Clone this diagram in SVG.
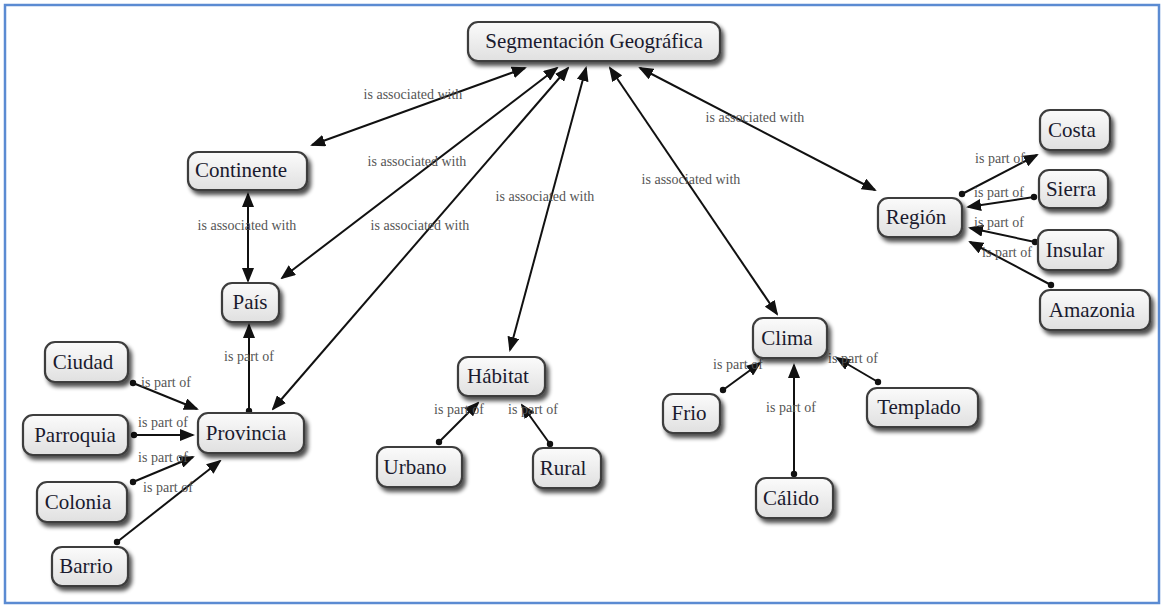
<svg xmlns="http://www.w3.org/2000/svg" width="1162" height="605" viewBox="0 0 1162 605">
  <style>
    .box { fill: url(#boxfill); stroke: #3c3c3c; stroke-width: 2.2; filter: url(#shadow); }
    .name { font-family: "Liberation Serif", "Times New Roman", serif; font-size: 21px; fill: #1a1a2e; text-anchor: middle; }
    .lbl { font-family: "Liberation Serif", "Times New Roman", serif; font-size: 14px; fill: #555; text-anchor: middle; }
    .edge { stroke: #111; stroke-width: 2; fill: none; }
    .both { marker-start: url(#arrow); marker-end: url(#arrow); }
    .part { marker-start: url(#dot); marker-end: url(#arrow); }
  </style>
  <defs>
    <linearGradient id="boxfill" x1="0" y1="0" x2="0" y2="1">
      <stop offset="0" stop-color="#fbfbfb"/>
      <stop offset="1" stop-color="#e0e0e0"/>
    </linearGradient>
    <filter id="shadow" x="-20%" y="-30%" width="150%" height="170%">
      <feGaussianBlur in="SourceAlpha" stdDeviation="2"/>
      <feOffset dx="3" dy="4" result="off"/>
      <feComponentTransfer><feFuncA type="linear" slope="0.7"/></feComponentTransfer>
      <feMerge><feMergeNode/><feMergeNode in="SourceGraphic"/></feMerge>
    </filter>
    <marker id="arrow" markerWidth="15" markerHeight="12" refX="13" refY="6" orient="auto-start-reverse" markerUnits="userSpaceOnUse">
      <path d="M0,0 L15,6 L0,12 z" fill="#111"/>
    </marker>
    <marker id="dot" markerWidth="8" markerHeight="8" refX="4" refY="4" markerUnits="userSpaceOnUse">
      <circle cx="4" cy="4" r="3.2" fill="#111"/>
    </marker>
  </defs>

  <rect x="0" y="0" width="1162" height="605" fill="#fff"/>
  <rect x="5" y="5" width="1154" height="598" fill="none" stroke="#5b8bd2" stroke-width="2.5"/>

  <g id="connectors">
    <line class="edge both" x1="525" y1="68" x2="312" y2="145"/>
    <line class="edge both" x1="557" y1="68" x2="282" y2="278"/>
    <line class="edge both" x1="568" y1="68" x2="273" y2="409"/>
    <line class="edge both" x1="586" y1="68" x2="510" y2="350"/>
    <line class="edge both" x1="610" y1="68" x2="777" y2="314"/>
    <line class="edge both" x1="640" y1="68" x2="875" y2="190"/>
    <line class="edge both" x1="248" y1="194" x2="248" y2="281"/>

    <line class="edge part" x1="133" y1="383" x2="197" y2="409"/>
    <line class="edge part" x1="134" y1="435" x2="193" y2="435"/>
    <line class="edge part" x1="133" y1="482" x2="193" y2="457"/>
    <line class="edge part" x1="117" y1="542" x2="220" y2="461"/>
    <line class="edge part" x1="249" y1="411" x2="249" y2="325"/>
    <line class="edge part" x1="439" y1="442" x2="478" y2="403"/>
    <line class="edge part" x1="550" y1="444" x2="522" y2="405"/>
    <line class="edge part" x1="723" y1="390" x2="760" y2="363"/>
    <line class="edge part" x1="794" y1="474" x2="794" y2="365"/>
    <line class="edge part" x1="878" y1="382" x2="837" y2="358"/>
    <line class="edge part" x1="962" y1="194" x2="1037" y2="155"/>
    <line class="edge part" x1="1034" y1="197" x2="968" y2="207"/>
    <line class="edge part" x1="1035" y1="242" x2="970" y2="228"/>
    <line class="edge part" x1="1051" y1="285" x2="970" y2="242"/>

    <text class="lbl" x="413" y="99">is associated with</text>
    <text class="lbl" x="417" y="166">is associated with</text>
    <text class="lbl" x="420" y="230">is associated with</text>
    <text class="lbl" x="247" y="230">is associated with</text>
    <text class="lbl" x="545" y="201">is associated with</text>
    <text class="lbl" x="691" y="184">is associated with</text>
    <text class="lbl" x="755" y="122">is associated with</text>

    <text class="lbl" x="166" y="387">is part of</text>
    <text class="lbl" x="163" y="427">is part of</text>
    <text class="lbl" x="163" y="462">is part of</text>
    <text class="lbl" x="168" y="492">is part of</text>
    <text class="lbl" x="249" y="361">is part of</text>
    <text class="lbl" x="459" y="414">is part of</text>
    <text class="lbl" x="533" y="414">is part of</text>
    <text class="lbl" x="738" y="369">is part of</text>
    <text class="lbl" x="791" y="412">is part of</text>
    <text class="lbl" x="853" y="363">is part of</text>
    <text class="lbl" x="1000" y="163">is part of</text>
    <text class="lbl" x="999" y="197">is part of</text>
    <text class="lbl" x="999" y="227">is part of</text>
    <text class="lbl" x="1007" y="257">is part of</text>
  </g>

  <g id="segmentacion"><rect class="box" x="468" y="22" width="252" height="39" rx="10"/><text class="name" x="594" y="48">Segmentación Geográfica</text></g>
  <g id="continente"><rect class="box" x="188" y="152" width="119" height="38" rx="10"/><text class="name" x="241" y="177">Continente</text></g>
  <g id="pais"><rect class="box" x="222" y="283" width="57" height="39" rx="10"/><text class="name" x="250" y="309">País</text></g>
  <g id="provincia"><rect class="box" x="198" y="413" width="106" height="40" rx="10"/><text class="name" x="246" y="440">Provincia</text></g>
  <g id="ciudad"><rect class="box" x="45" y="342" width="83" height="40" rx="10"/><text class="name" x="83" y="369">Ciudad</text></g>
  <g id="parroquia"><rect class="box" x="23" y="415" width="105" height="40" rx="10"/><text class="name" x="75" y="442">Parroquia</text></g>
  <g id="colonia"><rect class="box" x="37" y="482" width="90" height="40" rx="10"/><text class="name" x="78" y="509">Colonia</text></g>
  <g id="barrio"><rect class="box" x="52" y="547" width="76" height="39" rx="10"/><text class="name" x="86" y="573">Barrio</text></g>
  <g id="habitat"><rect class="box" x="458" y="357" width="87" height="39" rx="10"/><text class="name" x="498" y="383">Hábitat</text></g>
  <g id="urbano"><rect class="box" x="377" y="447" width="85" height="40" rx="10"/><text class="name" x="415" y="474">Urbano</text></g>
  <g id="rural"><rect class="box" x="533" y="448" width="68" height="40" rx="10"/><text class="name" x="563" y="475">Rural</text></g>
  <g id="clima"><rect class="box" x="753" y="318" width="74" height="40" rx="10"/><text class="name" x="787" y="345">Clima</text></g>
  <g id="frio"><rect class="box" x="663" y="394" width="57" height="39" rx="10"/><text class="name" x="689" y="420">Frio</text></g>
  <g id="templado"><rect class="box" x="867" y="388" width="111" height="39" rx="10"/><text class="name" x="919" y="414">Templado</text></g>
  <g id="calido"><rect class="box" x="756" y="478" width="77" height="40" rx="10"/><text class="name" x="791" y="505">Cálido</text></g>
  <g id="region"><rect class="box" x="878" y="198" width="84" height="39" rx="10"/><text class="name" x="916" y="224">Región</text></g>
  <g id="costa"><rect class="box" x="1040" y="110" width="70" height="40" rx="10"/><text class="name" x="1072" y="137">Costa</text></g>
  <g id="sierra"><rect class="box" x="1039" y="170" width="69" height="38" rx="10"/><text class="name" x="1071" y="196">Sierra</text></g>
  <g id="insular"><rect class="box" x="1038" y="230" width="80" height="40" rx="10"/><text class="name" x="1075" y="257">Insular</text></g>
  <g id="amazonia"><rect class="box" x="1040" y="290" width="110" height="40" rx="10"/><text class="name" x="1092" y="317">Amazonia</text></g>
</svg>
